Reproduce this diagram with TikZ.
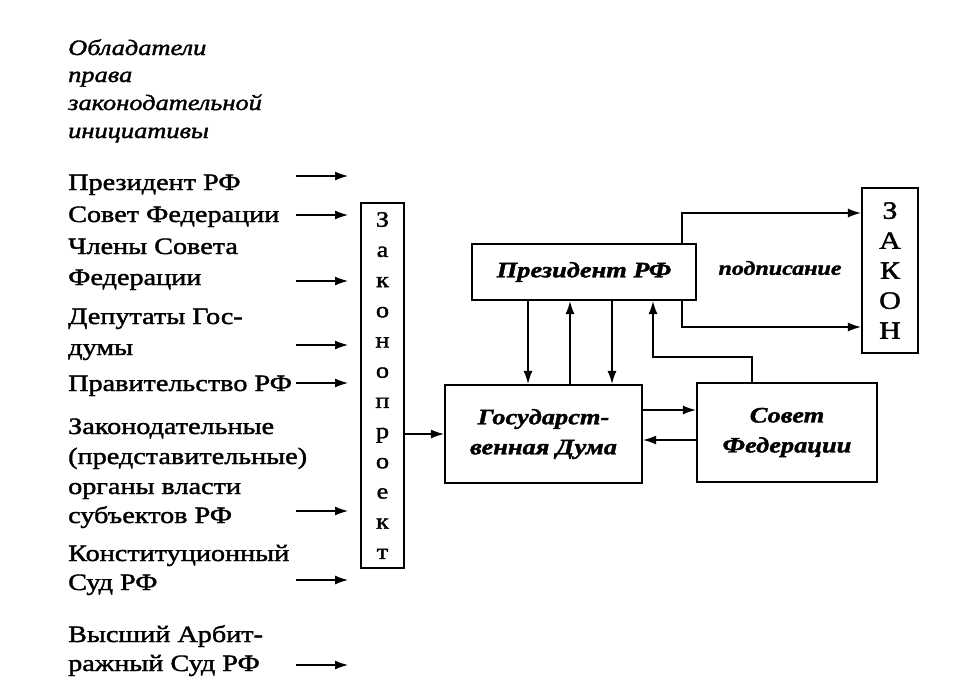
\documentclass[tikz,border=0pt]{standalone}
\usepackage{fontspec}
\setmainfont[FakeStretch=1.2]{Liberation Serif}
\newfontfamily\heavyfont[FakeStretch=1.2,FakeBold=1.6]{Liberation Serif}
\usetikzlibrary{arrows.meta}

\begin{document}
\begin{tikzpicture}[x=1pt,y=-1pt,
    box/.style={draw,line width=2.2pt,inner sep=0pt},
    arr/.style={line width=1.3pt,-{Latex[length=13pt,width=9pt]}},
    lbl/.style={anchor=base west,inner sep=0pt,font=\heavyfont\fontsize{23.5}{30}\selectfont},
    head/.style={anchor=base west,inner sep=0pt,font=\heavyfont\fontsize{22}{28}\selectfont\itshape},
    boxlbl/.style={align=center,font=\heavyfont\fontsize{22}{30}\selectfont\bfseries\itshape}]

\def\LINECOLOR{black}
	\useasboundingbox (0,0) rectangle (960,697);

	% heading
	\node[head] (h1) at (68,55) {Обладатели};
	\node[head] (h2) at (68,82) {права};
	\node[head] (h3) at (68,110) {законодательной};
	\node[head] (h4) at (68,138) {инициативы};

	% who may propose a bill
	\foreach \y/\t [count=\i] in {190/{Президент РФ}, 222/{Совет Федерации},
	    254/{Члены Совета}, 285/{Федерации}, 324/{Депутаты Гос-}, 355/{думы},
	    391/{Правительство РФ}, 434/{Законодательные}, 464/{(представительные)},
	    494/{органы власти}, 523/{субъектов РФ}, 561/{Конституционный},
	    590/{Суд РФ}, 642/{Высший Арбит-}, 671/{ражный Суд РФ}}
	    \node[lbl] (l\i) at (68,\y) {\t};

	\foreach \y [count=\i] in {176,215,281,345,383,511,580,665} {
	    \coordinate (s\i) at (296,\y);
	    \coordinate (e\i) at (348,\y);
	    \draw[arr,\LINECOLOR] (s\i) -- (e\i);
	}

	% boxes
	\node[box,minimum width=43,minimum height=365,align=center,
	      font=\heavyfont\fontsize{22}{30.2}\selectfont] (zp) at (382.5,385.5)
	      {З\\а\\к\\о\\н\\о\\п\\р\\о\\е\\к\\т};
	\node[box,boxlbl,minimum width=224,minimum height=56] (pres) at (584,272) {Президент РФ};
	\node[box,boxlbl,minimum width=197,minimum height=98] (duma) at (543.5,434) {Государст-\\венная Дума};
	\node[box,boxlbl,minimum width=180,minimum height=99] (sf) at (787,432.5) {Совет\\Федерации};
	\node[box,minimum width=56,minimum height=165,align=center,
	      font=\heavyfont\fontsize{25}{30}\selectfont] (zakon) at (890,270.5) {З\\А\\К\\О\\Н};
	\node[font=\heavyfont\fontsize{20}{24}\selectfont\bfseries\itshape] (podp) at (780,268) {подписание};

	% connectors
	\coordinate (xA) at (528,0);
	\coordinate (xB) at (570,0);
	\coordinate (xC) at (612,0);
	\coordinate (xD) at (653,0);
	\coordinate (xE) at (752,0);
	\coordinate (xF) at (682,0);
	\coordinate (yT) at (0,213);
	\coordinate (yL) at (0,327);
	\coordinate (yM) at (0,357);
	\coordinate (y1) at (0,410);
	\coordinate (y2) at (0,440);

	\draw[arr] (zp.east |- duma.west) -- (duma.west);
	\draw[arr] (pres.south -| xA) -- (duma.north -| xA);
	\draw[arr] (duma.north -| xB) -- (pres.south -| xB);
	\draw[arr] (pres.south -| xC) -- (duma.north -| xC);
	\draw[arr] (sf.north -| xE) |- (yM -| xD) -- (pres.south -| xD);
	\draw[arr] (pres.north -| xF) |- (zakon.west |- yT);
	\draw[arr] (pres.south -| xF) |- (zakon.west |- yL);
	\draw[arr] (duma.east |- y1) -- (sf.west |- y1);
	\draw[arr] (sf.west |- y2) -- (duma.east |- y2);

\end{tikzpicture}
\end{document}
